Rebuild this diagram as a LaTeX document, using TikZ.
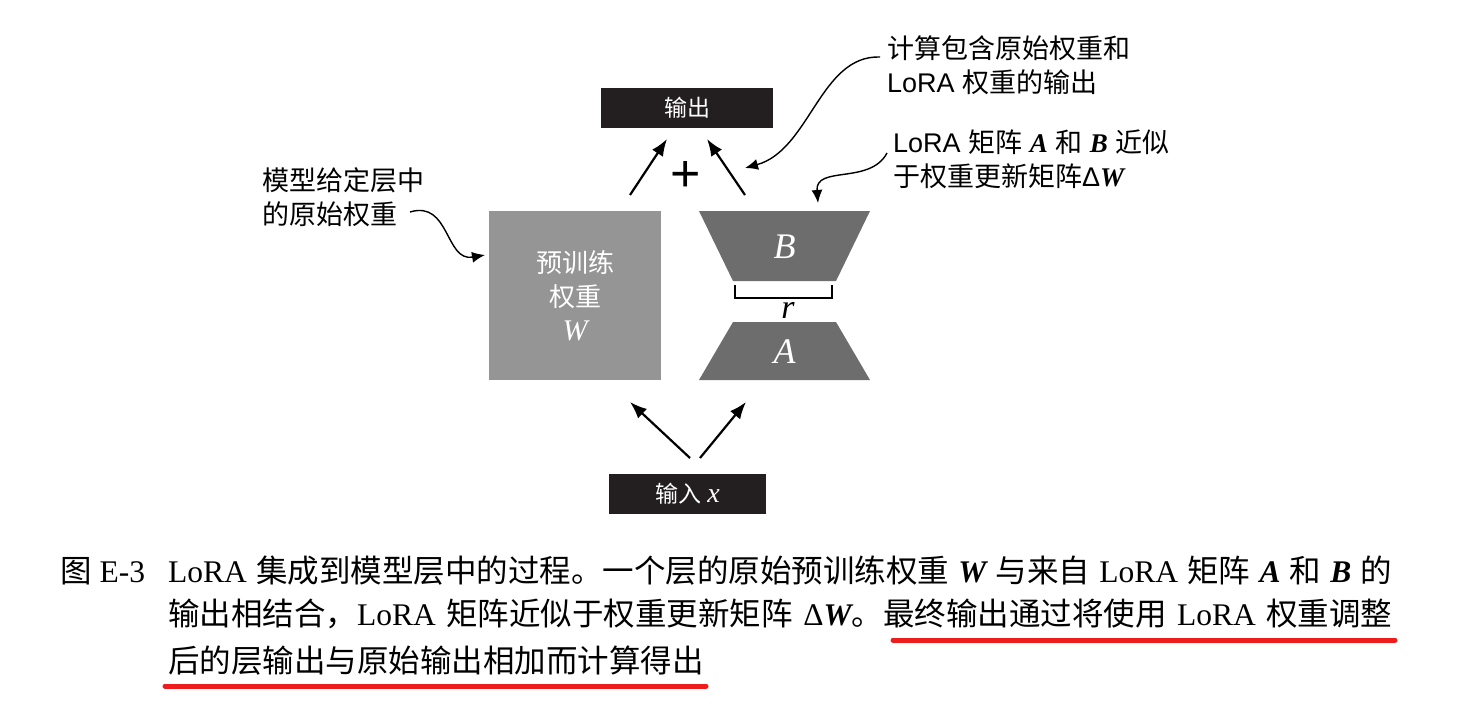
\documentclass[tikz,border=0pt]{standalone}
\usepackage{fontspec}
\setmainfont{Liberation Serif}
\setsansfont{Liberation Sans}
\newfontfamily\cjk{Noto Sans CJK SC}
\usetikzlibrary{positioning, arrows.meta, calc}
\newcommand{\zh}[1]{{\cjk #1}}
\newcommand{\bi}[1]{{\rmfamily\bfseries\itshape #1}}
\newcommand{\mi}[1]{{\rmfamily\itshape #1}}
\definecolor{boxblack}{HTML}{231F20}
\definecolor{wgray}{HTML}{959595}
\definecolor{lgray}{HTML}{6D6D6D}
\definecolor{hired}{HTML}{EE1D1D}

\begin{document}
\begin{tikzpicture}[x=1pt, y=-1pt,
    every node/.style={inner sep=0pt},
    iobox/.style={fill=boxblack, text=white, minimum width=172pt, minimum height=40pt, font=\sffamily\fontsize{23}{27}\selectfont},
    note/.style={align=left, anchor=west, font=\sffamily\fontsize{27}{34}\selectfont},
    arrow/.style={-{Latex[length=17pt, width=13pt]}, line width=2.2pt},
    curved/.style={-{Latex[length=13pt, width=11pt]}, line width=1.4pt},
    capline/.style={anchor=base west, font=\fontsize{31.5}{40}\selectfont},
    hilite/.style={hired, line width=5pt, line cap=round}
  ]
\useasboundingbox (0,0) rectangle (1470,706);

\node[iobox]                        (out) at (687,108) {\zh{输出}};
\node[iobox, minimum width=157pt]   (in)  at (687.5,494) {\zh{输入} {\fontsize{28}{28}\selectfont\mi{x}}};

\node[fill=wgray, minimum width=172pt, minimum height=169pt, text=white, align=center,
      font=\fontsize{26}{34}\selectfont] (W) at (575,295.5)
      {\zh{预训练}\\\zh{权重}\\{\fontsize{30}{30}\selectfont\mi{W}}};

% low-rank pair
\fill[lgray] (699,211) -- (870,211) -- (836,281) -- (733,281) -- cycle;
\fill[lgray] (733,322) -- (836,322) -- (870,380) -- (699,380) -- cycle;
\node[text=white, font=\fontsize{36}{36}\selectfont] (B) at (784.5,247) {\mi{B}};
\node[text=white, font=\fontsize{36}{36}\selectfont] (A) at (784.5,352) {\mi{A}};
\draw[line width=2pt] (735,285) -- (735,298) -- (832,298) -- (832,285);
\node[font=\fontsize{34}{34}\selectfont] (r) at (788,310) {\mi{r}};

\node[font=\sffamily\fontsize{52}{52}\selectfont] (plus) at (686,176) {+};

\coordinate (wtop)  at (630,195);  \coordinate (outl) at (667,139);
\coordinate (btop)  at (745,195);  \coordinate (outr) at (707,139);
\coordinate (inl)   at (690,458);  \coordinate (wbot) at (630,402);
\coordinate (inr)   at (700,458);  \coordinate (abot) at (746,402);

\draw[arrow] (wtop) -- (outl);
\draw[arrow] (btop) -- (outr);
\draw[arrow] (inl) -- (wbot);
\draw[arrow] (inr) -- (abot);

% annotations
\node[note] (sumnote)  at (887,65)  {\zh{计算包含原始权重和}\\LoRA \zh{权重的输出}};
\node[note] (loranote) at (893,159) {LoRA \zh{矩阵} \bi{A} \zh{和} \bi{B} \zh{近似}\\\zh{于权重更新矩阵}Δ\bi{W}};
\node[note] (orignote) at (262,197) {\zh{模型给定层中}\\\zh{的原始权重}};

\coordinate (sumtip)  at (745,168);
\coordinate (loratip) at (818,203);
\coordinate (origtip) at (485,255);

\draw[curved] ([xshift=-7pt, yshift=8pt]sumnote.west) .. controls (820,55) and (810,150) .. (sumtip);
\draw[curved] ([xshift=-6pt, yshift=6pt]loranote.west) .. controls (870,185) and (815,165) .. (loratip);
\draw[curved] ([xshift=148pt, yshift=-15pt]orignote.west) .. controls (450,200) and (445,262) .. (origtip);

% caption
\node[capline] (fig)  at (60,582)  {\zh{图} E-3};
\node[capline] (cap1) at (168,582) {\makebox[1224pt][s]{LoRA \zh{集成到模型层中的过程。一个层的原始预训练权重} \bi{W} \zh{与来自} LoRA \zh{矩阵} \bi{A} \zh{和} \bi{B} \zh{的}}};
\node[capline] (cap2) at (168,625) {\makebox[1224pt][s]{\zh{输出相结合，}LoRA \zh{矩阵近似于权重更新矩阵} Δ\bi{W}\zh{。最终输出通过将使用} LoRA \zh{权重调整}}};
\node[capline] (cap3) at (168,672) {\zh{后的层输出与原始输出相加而计算得出}};

\draw[hilite] (893,640) -- (1395,640);
\draw[hilite] (165,686) -- (706,686);
\end{tikzpicture}
\end{document}
